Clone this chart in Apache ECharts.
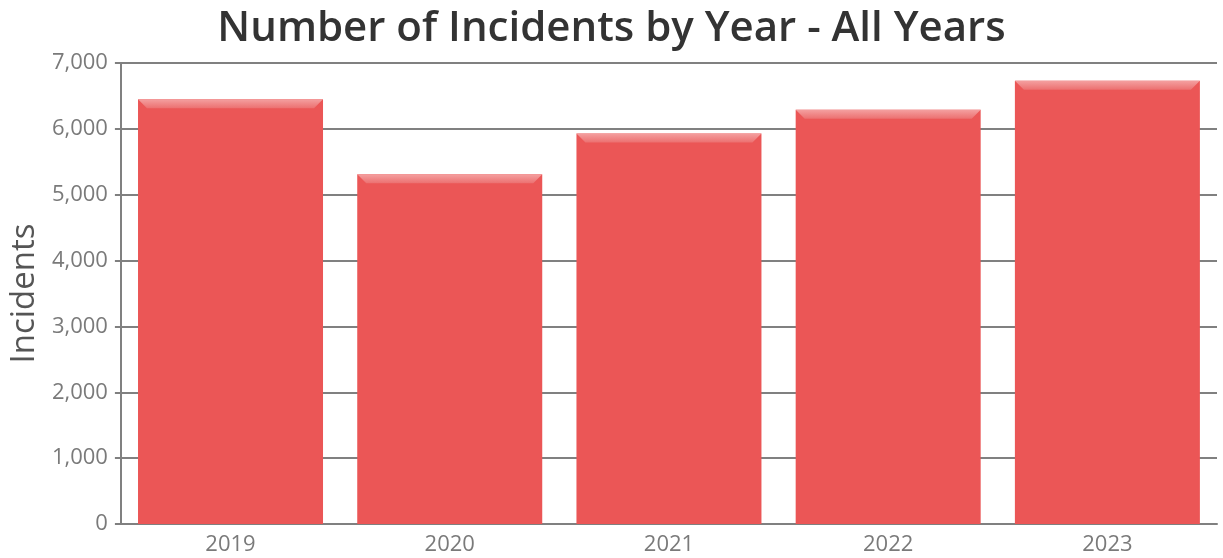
<!DOCTYPE html>
<html><head><meta charset="utf-8">
<script src="https://cdn.jsdelivr.net/npm/echarts@6/dist/echarts.min.js"></script>
<style>html,body{margin:0;padding:0;background:#fff}#c{width:1223px;height:558px}</style>
</head><body><div id="c"></div>
<script>
const years = ['2019', '2020', '2021', '2022', '2023'];
const incidents = [6450, 5310, 5930, 6290, 6730];
const yTicks = {min: 0, max: 7000, interval: 1000};

const chart = echarts.init(document.getElementById('c'));
const barColor = '#EB5656';
chart.setOption({
  animation: false,
  title: {
    text: 'Number of Incidents by Year - All Years',
    left: 'center', top: 3,
    textStyle: {fontFamily: 'Open Sans', fontWeight: 600, fontSize: 42, color: '#333333'}
  },
  grid: {left: 114, right: 6, top: 63, bottom: 34, containLabel: false},
  xAxis: {
    type: 'category', data: years,
    axisLine: {lineStyle: {color: '#808080', width: 2}},
    axisTick: {alignWithLabel: true, length: 6, lineStyle: {color: '#808080', width: 2}},
    axisLabel: {color: '#7a7a7a', fontFamily: 'Open Sans', fontSize: 22, margin: 10}
  },
  yAxis: {
    type: 'value', min: yTicks.min, max: yTicks.max, interval: yTicks.interval,
    name: 'Incidents', nameLocation: 'middle', nameGap: 76,
    nameTextStyle: {fontFamily: 'Open Sans', fontSize: 33, color: '#555555'},
    axisLine: {show: true, lineStyle: {color: '#808080', width: 2}},
    axisTick: {show: true, length: 6, lineStyle: {color: '#808080', width: 2}},
    splitLine: {lineStyle: {color: '#808080', width: 2}},
    axisLabel: {color: '#7a7a7a', fontFamily: 'Open Sans', fontSize: 22, margin: 13,
      formatter: v => v.toLocaleString('en-US')}
  },
  series: [
    {type: 'bar', data: incidents, barWidth: 185, itemStyle: {color: barColor}, z: 2},
    {type: 'pictorialBar', data: incidents, barWidth: 185, symbolPosition: 'end',
      symbol: 'path://M0,0 L185,0 L176,9 L9,9 Z', symbolSize: [185, 9],
      itemStyle: {color: {type: 'linear', x: 0, y: 0, x2: 0, y2: 1,
        colorStops: [{offset: 0, color: '#F4A0A0'}, {offset: 1, color: '#EC7070'}]}},
      z: 3, silent: true}
  ]
});
</script></body></html>
